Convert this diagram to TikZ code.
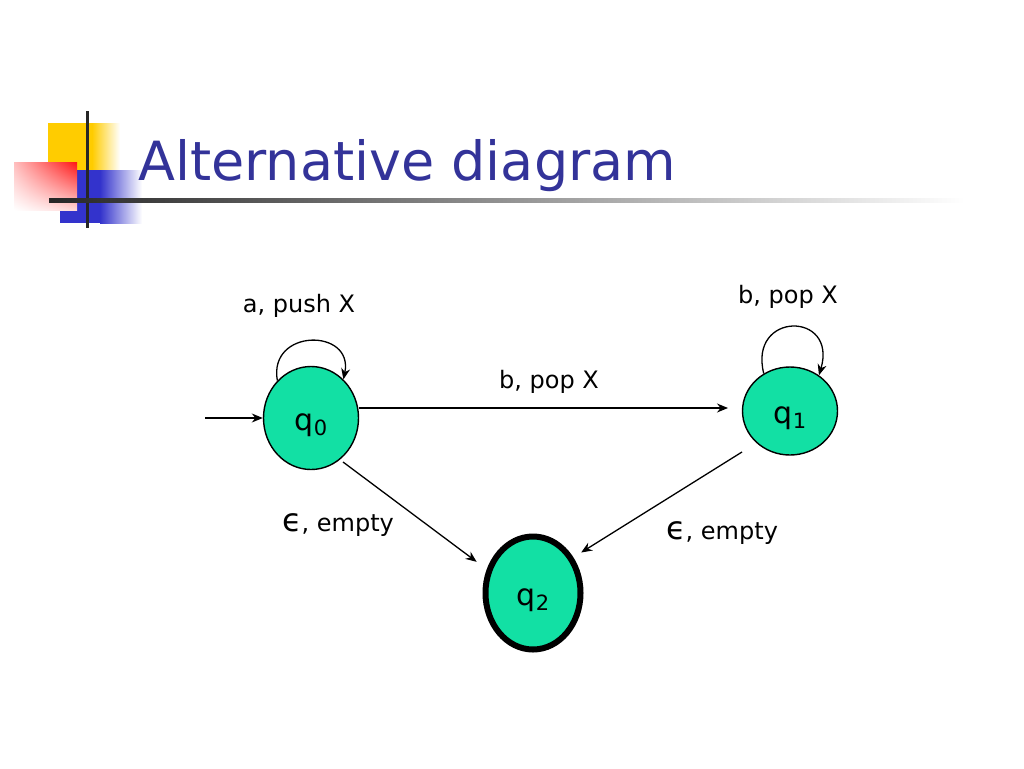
\documentclass[tikz,border=0pt]{standalone}
\usepackage{fontspec}
\setmainfont{DejaVu Sans}
\usetikzlibrary{arrows.meta,shapes.geometric,shadings}
\definecolor{mint}{RGB}{18,224,164}
\definecolor{titleblue}{RGB}{51,51,153}
\definecolor{logoyellow}{RGB}{255,204,0}
\definecolor{logoblue}{RGB}{51,51,204}
\definecolor{logored}{RGB}{255,20,20}
\definecolor{logopinkA}{RGB}{255,190,190}
\definecolor{logopinkB}{RGB}{255,215,215}
\tikzset{
  state/.style={ellipse, draw=black, line width=1.4pt, fill=mint, inner sep=0pt,
    font=\fontsize{30}{30}\selectfont, text height=30pt, text depth=6pt},
  edge/.style={-{Stealth[length=11pt,width=9pt]}, line width=1.3pt},
  lbl/.style={font=\fontsize{24}{24}\selectfont, inner sep=0pt}
}
\newcommand{\qsub}[1]{q\raisebox{-5pt}{\fontsize{21}{21}\selectfont #1}}
\newcommand{\bigeps}{{\fontsize{32}{32}\selectfont ϵ}}
\begin{document}
\begin{tikzpicture}[x=1pt,y=-1pt]
\useasboundingbox (0,0) rectangle (1024,768);
% logo
\fill[logoyellow] (48,123) rectangle (92,172);
\shade[left color=logoyellow, right color=white] (92,123) rectangle (120,172);
\fill[logoblue] (60,170) rectangle (100,223);
\shade[left color=logoblue, right color=white] (100,170) rectangle (142,223);
\shade[upper right=logored, upper left=logopinkA, lower right=logopinkB, lower left=white] (14,162) rectangle (77,210);
\draw[line width=3pt, black!85] (87,111) -- (87,228);
\shade[left color=black!85, right color=white] (49,198) rectangle (965,202);
% title
\node[anchor=base west, inner sep=0pt, text=titleblue, font=\fontsize{54}{54}\selectfont] (title) at (138,180) {Alternative diagram};
% states
\node[state, minimum width=95pt, minimum height=103pt] (q0) at (311,418) {\qsub{0}};
\node[state, minimum width=95pt, minimum height=88pt] (q1) at (790,411) {\qsub{1}};
\node[state, line width=6pt, minimum width=95pt, minimum height=113pt] (q2) at (533,593) {\qsub{2}};
\coordinate (start) at (205,418);
% edges
\draw[edge] (start) -- (q0.west);
\draw[edge] (q0.east |- 0,408) -- (728,408) coordinate (q1in);
\draw[edge] ([shift={(32,44)}]q0.center) -- ([shift={(-11,-5)}]q2.150);
\draw[edge] ([shift={(-48,41)}]q1.center) -- ([shift={(7,-6)}]q2.40);
\draw[edge] (q0.132) .. controls (268,328) and (354,328) .. (q0.50);
\draw[edge] (q1.125) .. controls (748,311) and (838,311) .. (q1.51);
% labels
\node[lbl] (l1) at (299,306) {a, push X};
\node[lbl] (l2) at (788,297) {b, pop X};
\node[lbl] (l3) at (549,382) {b, pop X};
\node[lbl] (l4) at (338,525) {\bigeps, empty};
\node[lbl] (l5) at (722,533) {\bigeps, empty};
\end{tikzpicture}
\end{document}
